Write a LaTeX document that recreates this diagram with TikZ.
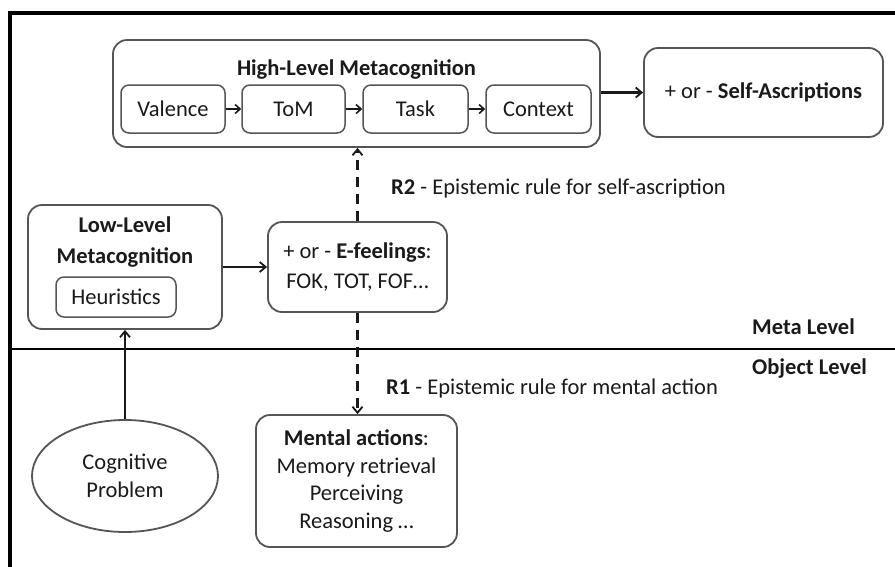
\documentclass[tikz,border=0pt]{standalone}
\usepackage{fontspec}
\setmainfont{Carlito}
\usetikzlibrary{arrows.meta,shapes.geometric}
\definecolor{boxline}{HTML}{555555}
\definecolor{txt}{HTML}{1A1A1A}
\tikzset{
  txtfont/.style={font=\fontsize{22.5}{29}\selectfont, text=txt},
  bigbox/.style={draw=boxline, line width=1.8pt, rounded corners=14pt, txtfont, align=center, inner sep=0pt},
  smallbox/.style={draw=boxline, line width=1.5pt, rounded corners=8pt, txtfont, align=center, inner sep=0pt},
  lbl/.style={txtfont, inner sep=0pt},
  arr/.style={line width=2.2pt, draw=txt, -{Straight Barb[length=6pt,width=10pt,line width=1.8pt]}},
  sarr/.style={line width=1.8pt, draw=txt, -{Straight Barb[length=5pt,width=9pt,line width=1.6pt]}},
  darr/.style={line width=2.2pt, draw=txt, dash pattern=on 10pt off 7pt, -{Straight Barb[length=6pt,width=10pt,line width=1.8pt]}},
}
\begin{document}
\begin{tikzpicture}[x=1pt,y=-1pt]
\useasboundingbox (0,0) rectangle (895,566);
\fill[white] (0,0) rectangle (895,566);
% frame
\draw[line width=3.2pt, line cap=rect] (10,566) -- (10,13) -- (895,13);
\draw[line width=2.6pt] (10,349) -- (895,349);

% high-level
\node[bigbox, minimum width=487pt, minimum height=107pt] (hl) at (356.5,93.5) {};
\node[lbl, font=\fontsize{22.5}{29}\selectfont\bfseries] (hltitle) at (356.5,69) {High-Level Metacognition};
\node[smallbox, minimum width=104pt, minimum height=48pt] (val) at (173,109) {Valence};
\node[smallbox, minimum width=103pt, minimum height=48pt] (tom) at (293.5,109) {ToM};
\node[smallbox, minimum width=105pt, minimum height=48pt] (task) at (415.5,109) {Task};
\node[smallbox, minimum width=105pt, minimum height=48pt] (ctx) at (538.5,109) {Context};
\draw[sarr] (val) -- (tom);
\draw[sarr] (tom) -- (task);
\draw[sarr] (task) -- (ctx);

% self ascriptions
\node[bigbox, minimum width=239pt, minimum height=89pt] (self) at (763.5,92.5) {+ or - \textbf{Self-Ascriptions}};
\draw[arr] (hl.east |- self) -- (self.west);

% low level
\node[bigbox, minimum width=194pt, minimum height=124pt] (low) at (125,267) {};
\node[lbl, align=center, font=\fontsize{22.5}{31}\selectfont\bfseries] (lowtitle) at (125,242) {Low-Level\\Metacognition};
\node[smallbox, minimum width=120pt, minimum height=40pt] (heur) at (116,297) {Heuristics};

% e-feelings
\node[bigbox, minimum width=179pt, minimum height=90pt, font=\fontsize{22.5}{30}\selectfont] (ef) at (357.5,267) {+ or - \textbf{E-feelings}:\\FOK, TOT, FOF\dots};
\draw[arr] (low.east |- ef) -- (ef.west);

% mental actions
\node[bigbox, minimum width=201pt, minimum height=132pt, font=\fontsize{22.5}{27.5}\selectfont] (ma) at (356.5,481) {\textbf{Mental actions}:\\Memory retrieval\\Perceiving\\Reasoning \dots};

% cognitive problem
\node[ellipse, draw=boxline, line width=1.8pt, minimum width=186pt, minimum height=112pt, inner sep=0pt, align=center, font=\fontsize{22.5}{28}\selectfont, text=txt] (cog) at (125,476) {Cognitive\\Problem};
\draw[arr] (cog.north) -- (low.south -| cog.north);

% dashed connectors
\draw[darr] (ef.north) -- (hl.south -| ef.north);
\draw[darr] (ef.south) -- (ma.north -| ef.south);

% labels
\node[lbl, anchor=west] (r2) at (391,188) {\textbf{R2} - Epistemic rule for self-ascription};
\node[lbl, anchor=west] (r1) at (386,388) {\textbf{R1} - Epistemic rule for mental action};
\node[lbl, anchor=west, font=\fontsize{22.5}{29}\selectfont\bfseries] (meta) at (752,327) {Meta Level};
\node[lbl, anchor=west, font=\fontsize{22.5}{29}\selectfont\bfseries] (obj) at (752,368) {Object Level};
\end{tikzpicture}
\end{document}
